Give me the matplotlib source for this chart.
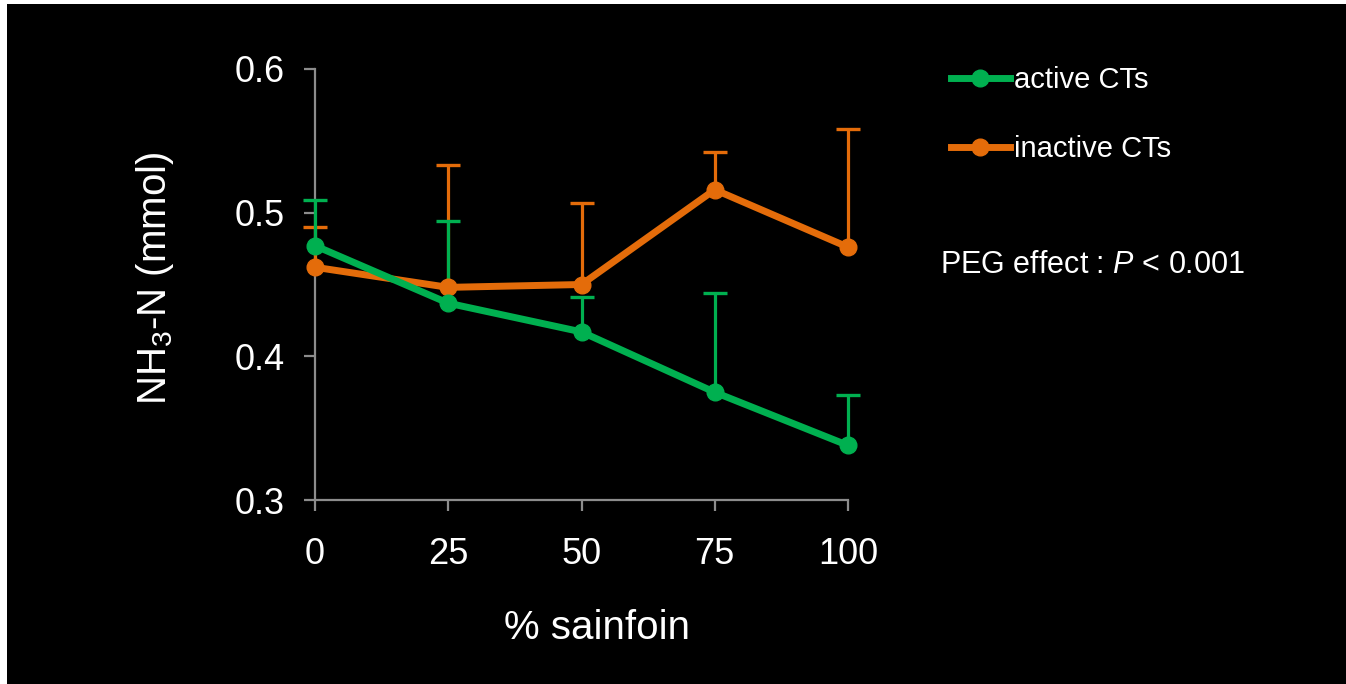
import matplotlib
matplotlib.use("Agg")
import matplotlib.pyplot as plt
from matplotlib.patches import Rectangle

plt.rcParams['font.family'] = ['Liberation Sans', 'DejaVu Sans']
plt.rcParams['mathtext.fontset'] = 'custom'
plt.rcParams['mathtext.rm'] = 'Liberation Sans'
plt.rcParams['mathtext.it'] = 'Liberation Sans:italic'

sainfoin = [0, 25, 50, 75, 100]
active = [0.477, 0.437, 0.417, 0.375, 0.338]
active_err = [0.032, 0.057, 0.024, 0.069, 0.035]
inactive = [0.462, 0.448, 0.450, 0.516, 0.476]
inactive_err = [0.028, 0.085, 0.057, 0.026, 0.082]

green = '#00b050'
orange = '#e46c0a'
axis_col = '#8c8c8c'

W, H = 1346, 684
fig = plt.figure(figsize=(W / 100, H / 100), dpi=100, facecolor='white')
fig.patches.append(Rectangle((7 / W, 0), 1 - 7 / W, 1 - 4 / H, transform=fig.transFigure,
                             facecolor='black', edgecolor='none', zorder=-10))

ax = fig.add_axes([315 / W, 1 - 500 / H, (848 - 315) / W, (500 - 69) / H])
ax.set_facecolor('none')

for vals, errs, col, lab, z in [(inactive, inactive_err, orange, 'inactive CTs', 4),
                                (active, active_err, green, 'active CTs', 5)]:
    eb = ax.errorbar(sainfoin, vals, yerr=[[0] * len(errs), errs], fmt='none', ecolor=col,
                     elinewidth=2.3, capsize=8.5, capthick=2.4, zorder=z)
    # only the upper half of the error bar is shown
    eb.lines[1][0].set_visible(False)
    for art in eb.lines[1] + eb.lines[2]:
        art.set_clip_on(False)
    ax.plot(sainfoin, vals, '-', color=col, lw=5, marker='o', ms=12,
            markerfacecolor=col, markeredgecolor=col, label=lab, zorder=z + 2, clip_on=False)

ax.set_xlim(0, 100)
ax.set_ylim(0.3, 0.6)
ax.set_xticks(sainfoin)
ax.set_yticks([0.3, 0.4, 0.5, 0.6])
ax.set_yticklabels(['0.3', '0.4', '0.5', '0.6'])

for s in ['top', 'right']:
    ax.spines[s].set_visible(False)
for s in ['left', 'bottom']:
    ax.spines[s].set_color(axis_col)
    ax.spines[s].set_linewidth(1.6)
ax.tick_params(colors=axis_col, width=1.6, length=8, labelsize=26, labelcolor='white')
ax.tick_params(axis='x', pad=19)
ax.tick_params(axis='y', pad=14)

ax.set_xlabel('% sainfoin', color='white', fontsize=29)
ax.xaxis.set_label_coords(0.529, -0.253)
ax.set_ylabel('NH$_3$-N (mmol)', color='white', fontsize=29)
ax.yaxis.set_label_coords(-0.261, 0.515)

handles, labels = ax.get_legend_handles_labels()
leg = fig.legend(handles[::-1], labels[::-1], loc='upper left', bbox_to_anchor=(925 / W, 1 - 40 / H),
                 frameon=False, fontsize=21, labelcolor='white', handlelength=2.0,
                 handletextpad=0.15, labelspacing=1.4)

fig.text(940 / W, 1 - 265 / H, 'PEG effect : $\\it{P}$ < 0.001', color='white', fontsize=22,
         va='center', ha='left')

fig.savefig('out.png', dpi=100, facecolor=fig.get_facecolor())
